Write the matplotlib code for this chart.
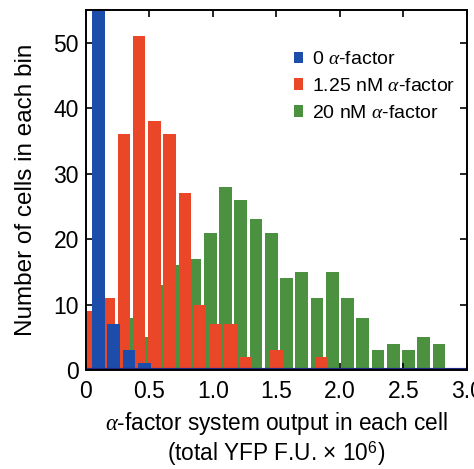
import matplotlib
matplotlib.use("Agg")
import matplotlib.pyplot as plt
import numpy as np

plt.rcParams['font.family'] = ['Liberation Sans', 'DejaVu Sans']
plt.rcParams['mathtext.fontset'] = 'custom'
plt.rcParams['mathtext.rm'] = 'Liberation Sans'
plt.rcParams['mathtext.it'] = 'Liberation Serif:italic'

# bin centres (width 0.12)
bin_centers = [0.06 + 0.12 * k for k in range(25)]

blue_counts = [230, 7, 3, 1] + [0] * 21
red_counts = [9, 11, 36, 51, 38, 36, 27, 10, 7, 7, 2, 0, 3, 0, 0, 2] + [0] * 9
green_counts = [0, 0, 1, 8, 5, 13, 16, 17, 21, 28, 26, 23, 21, 14, 15, 11,
                15, 11, 8, 3, 4, 3, 5, 4, 0]

series_labels = ["0 $\\mathit{\\alpha}$-factor",
                 "1.25 nM $\\mathit{\\alpha}$-factor",
                 "20 nM $\\mathit{\\alpha}$-factor"]
x_ticks = [0, 0.5, 1.0, 1.5, 2.0, 2.5, 3.0]
x_ticklabels = ["0", "0.5", "1.0", "1.5", "2.0", "2.5", "3.0"]
y_ticks = [0, 10, 20, 30, 40, 50]

c_blue = "#1d4dab"
c_red = "#ea4729"
c_green = "#4b9140"

fig = plt.figure(figsize=(4.74, 4.69), dpi=100)
ax = fig.add_axes([0.181, 0.211, 0.804, 0.768])

centers = np.array(bin_centers)
w = 0.1
ax.bar(centers - 0.04, green_counts, width=w, color=c_green, label=series_labels[2], zorder=1)
ax.bar(centers, red_counts, width=w, color=c_red, label=series_labels[1], zorder=2)
ax.bar(centers + 0.04, blue_counts, width=w, color=c_blue, label=series_labels[0], zorder=3)
ax.axhline(0, color="#1a2a86", lw=3, zorder=4)

ax.set_xlim(0, 3.0)
ax.set_ylim(0, 55)
ax.set_xticks(x_ticks)
ax.set_xticklabels(x_ticklabels)
ax.set_yticks(y_ticks)
ax.tick_params(direction='in', top=True, right=True, length=5, width=1.2,
               labelsize=16.5)
ax.tick_params(axis='x', pad=7)
ax.tick_params(axis='y', pad=5)
for s in ax.spines.values():
    s.set_linewidth(1.4)
    s.set_zorder(5)

ax.set_ylabel("Number of cells in each bin", fontsize=17.5, labelpad=12)
ax.set_xlabel("$\\mathit{\\alpha}$-factor system output in each cell\n(total YFP F.U. \u00d7 10$^{6}$)",
              fontsize=16.3, labelpad=5, linespacing=1.1)

handles, labels = ax.get_legend_handles_labels()
order = [2, 1, 0]
leg = ax.legend([handles[i] for i in order], [labels[i] for i in order],
                loc='upper left', bbox_to_anchor=(0.546, 0.885), frameon=False,
                fontsize=14, handlelength=0.45, handleheight=0.55,
                handletextpad=0.5, labelspacing=0.5, borderpad=0,
                borderaxespad=0)

fig.savefig("out.png", dpi=100)
